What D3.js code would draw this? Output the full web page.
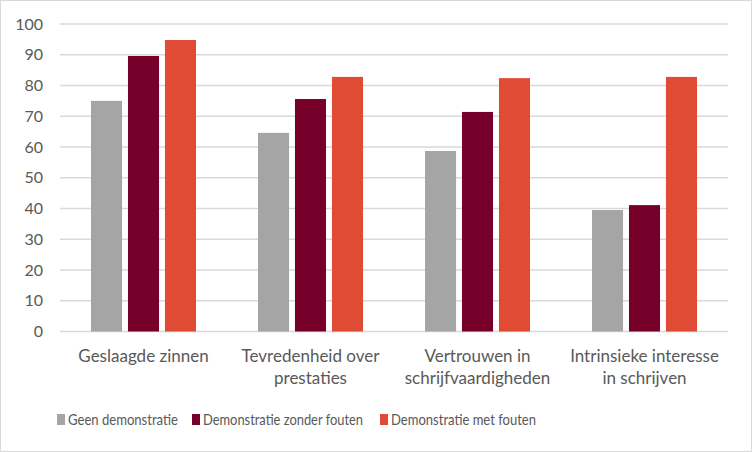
<!DOCTYPE html>
<html>
<head>
<meta charset="utf-8">
<script src="https://cdn.jsdelivr.net/npm/d3@7"></script>
<style>
  body { margin: 0; background: #fff; }
  text { font-family: Lato, "Open Sans", sans-serif; fill: #595959; }
</style>
</head>
<body>
<svg id="chart"></svg>
<script>
const categories = [
  ['Geslaagde zinnen'],
  ['Tevredenheid over', 'prestaties'],
  ['Vertrouwen in', 'schrijfvaardigheden'],
  ['Intrinsieke interesse', 'in schrijven']
];
const seriesNames = ['Geen demonstratie', 'Demonstratie zonder fouten', 'Demonstratie met fouten'];
const geen = [75, 64.6, 58.7, 39.5];
const zonder = [89.6, 75.6, 71.4, 41.1];
const met = [94.8, 82.8, 82.4, 82.8];
const colors = ['#A5A5A5', '#76002A', '#E04B36'];
const yTicks = [0, 10, 20, 30, 40, 50, 60, 70, 80, 90, 100];

const W = 752, H = 452;
const margin = {top: 24, right: 24, bottom: 120.5, left: 60};
const width = W - margin.left - margin.right;
const height = H - margin.top - margin.bottom;

const svg = d3.select('#chart').attr('width', W).attr('height', H);
svg.append('rect').attr('x', 0.5).attr('y', 0.5).attr('width', W - 1).attr('height', H - 1)
  .attr('fill', '#fff').attr('stroke', '#d9d9d9');

const g = svg.append('g').attr('transform', `translate(${margin.left},${margin.top})`);

const x0 = d3.scaleBand().domain(d3.range(categories.length)).range([0, width]);
const x1 = d3.scaleBand().domain(d3.range(seriesNames.length)).range([0, 105]).paddingInner(0.16);
const y = d3.scaleLinear().domain([0, 100]).range([height, 0]);

// gridlines
g.selectAll('.grid').data(yTicks).join('line')
  .attr('x1', 0).attr('x2', width)
  .attr('y1', d => y(d)).attr('y2', d => y(d))
  .attr('stroke', '#d9d9d9').attr('stroke-width', 1.5);

// y labels
g.selectAll('.ylab').data(yTicks).join('text')
  .attr('x', -17).attr('y', d => y(d)).attr('dy', '0.35em')
  .attr('text-anchor', 'end').style('font-size', '16px')
  .text(d => d);

const series = [geen, zonder, met];
series.forEach((vals, s) => {
  g.selectAll('.bar' + s).data(vals).join('rect')
    .attr('x', (d, i) => x0(i) + (x0.bandwidth() - 105) / 2 + x1(s))
    .attr('width', x1.bandwidth())
    .attr('y', d => y(d))
    .attr('height', d => y(0) - y(d))
    .attr('fill', colors[s]);
});

// category labels
categories.forEach((lines, i) => {
  const t = g.append('text')
    .attr('x', x0(i) + x0.bandwidth() / 2)
    .attr('y', height + 30)
    .attr('text-anchor', 'middle').style('font-size', '17px');
  lines.forEach((l, k) => {
    t.append('tspan').attr('x', x0(i) + x0.bandwidth() / 2).attr('dy', k === 0 ? 0 : 22).text(l);
  });
});

// legend (Calibri is narrow, so squeeze a bit)
const legendX = [57, 192, 380];
const legendW = [110, 160, 145];
const leg = svg.append('g');
seriesNames.forEach((n, s) => {
  leg.append('rect').attr('x', legendX[s]).attr('y', 414).attr('width', 8).attr('height', 11).attr('fill', colors[s]);
  leg.append('text').attr('x', legendX[s] + 11).attr('y', 420).attr('dy', '0.35em')
    .attr('textLength', legendW[s]).attr('lengthAdjust', 'spacingAndGlyphs')
    .style('font-size', '15px').text(n);
});
</script>
</body>
</html>
